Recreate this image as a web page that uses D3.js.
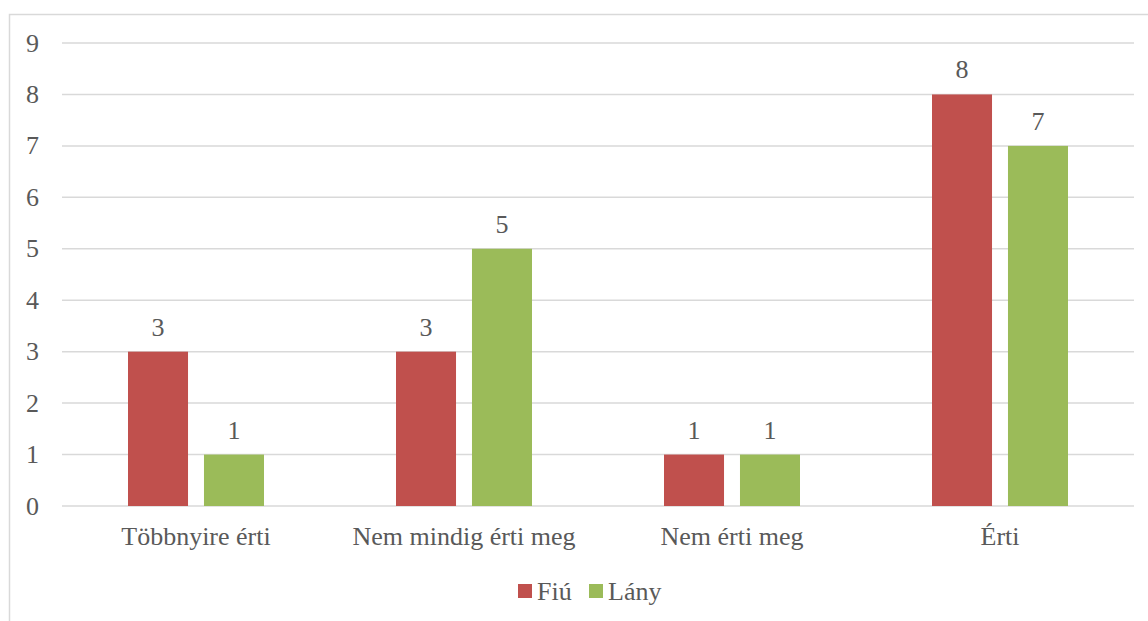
<!DOCTYPE html>
<meta charset="utf-8">
<style>
  body { margin: 0; background: #fff; }
  .grid line { stroke: #d9d9d9; stroke-width: 1.5; }
</style>
<svg id="chart" width="1148" height="621"></svg>
<script src="https://d3js.org/d3.v7.min.js"></script>
<script>
var categories = ["Többnyire érti", "Nem mindig érti meg", "Nem érti meg", "Érti"];
var seriesNames = ["Fiú", "Lány"];
var fiu = [3, 3, 1, 8];
var lany = [1, 5, 1, 7];
var colors = ["#c0504d", "#9bbb59"];
var yTicks = [0, 1, 2, 3, 4, 5, 6, 7, 8, 9];

(function () {
  var svg = d3.select("#chart").append("g");
  var fs = 26;
  var font = "'Liberation Serif', 'Times New Roman', serif";

  // apply the label font straight on each text element
  function label(sel) {
    return sel.style("font-family", font).style("font-size", fs + "px").style("fill", "#595959");
  }

  // chart border
  svg.append("rect")
    .attr("x", 9.5).attr("y", 14.5)
    .attr("width", 1150).attr("height", 620)
    .attr("fill", "none").attr("stroke", "#d9d9d9").attr("stroke-width", 1.5);

  var pLeft = 62, pRight = 1134, pTop = 43, pBottom = 506;

  var y = d3.scaleLinear().domain([0, 9]).range([pBottom, pTop]);
  var x0 = d3.scaleBand().domain(categories).range([pLeft, pRight]);
  var x1 = d3.scaleBand().domain(seriesNames)
    .range([66, x0.bandwidth() - 66]).paddingInner(0.21);

  // gridlines
  svg.append("g").attr("class", "grid")
    .selectAll("line").data(yTicks).enter().append("line")
    .attr("x1", pLeft).attr("x2", pRight)
    .attr("y1", function (d) { return y(d); })
    .attr("y2", function (d) { return y(d); });

  // y labels
  svg.append("g").selectAll("text").data(yTicks).enter().append("text")
    .attr("x", 39).attr("y", function (d) { return y(d); })
    .attr("dy", "0.33em").attr("text-anchor", "end")
    .call(label).text(function (d) { return d; });

  var rows = categories.map(function (c, i) {
    return [{ cat: c, s: 0, v: fiu[i] }, { cat: c, s: 1, v: lany[i] }];
  });

  var groups = svg.append("g").selectAll("g").data(rows).enter().append("g")
    .attr("transform", function (d, i) { return "translate(" + x0(categories[i]) + ",0)"; });

  groups.selectAll("rect").data(function (d) { return d; }).enter().append("rect")
    .attr("x", function (d) { return x1(seriesNames[d.s]); })
    .attr("width", x1.bandwidth())
    .attr("y", function (d) { return y(d.v); })
    .attr("height", function (d) { return pBottom - y(d.v); })
    .attr("fill", function (d) { return colors[d.s]; });

  groups.selectAll("text").data(function (d) { return d; }).enter().append("text")
    .attr("x", function (d) { return x1(seriesNames[d.s]) + x1.bandwidth() / 2; })
    .attr("y", function (d) { return y(d.v) - 16; })
    .attr("text-anchor", "middle")
    .call(label).text(function (d) { return d.v; });

  // category labels
  svg.append("g").selectAll("text").data(categories).enter().append("text")
    .attr("x", function (d) { return x0(d) + x0.bandwidth() / 2; })
    .attr("y", 545).attr("text-anchor", "middle")
    .call(label).text(function (d) { return d; });

  // legend
  var lx = [518, 589];
  var legend = svg.append("g").selectAll("g").data(seriesNames).enter().append("g")
    .attr("transform", function (d, i) { return "translate(" + lx[i] + ",584)"; });
  legend.append("rect").attr("width", 14).attr("height", 14)
    .attr("fill", function (d, i) { return colors[i]; });
  legend.append("text").attr("x", 19).attr("y", 7).attr("dy", "0.35em")
    .call(label).text(function (d) { return d; });
})();
</script>
